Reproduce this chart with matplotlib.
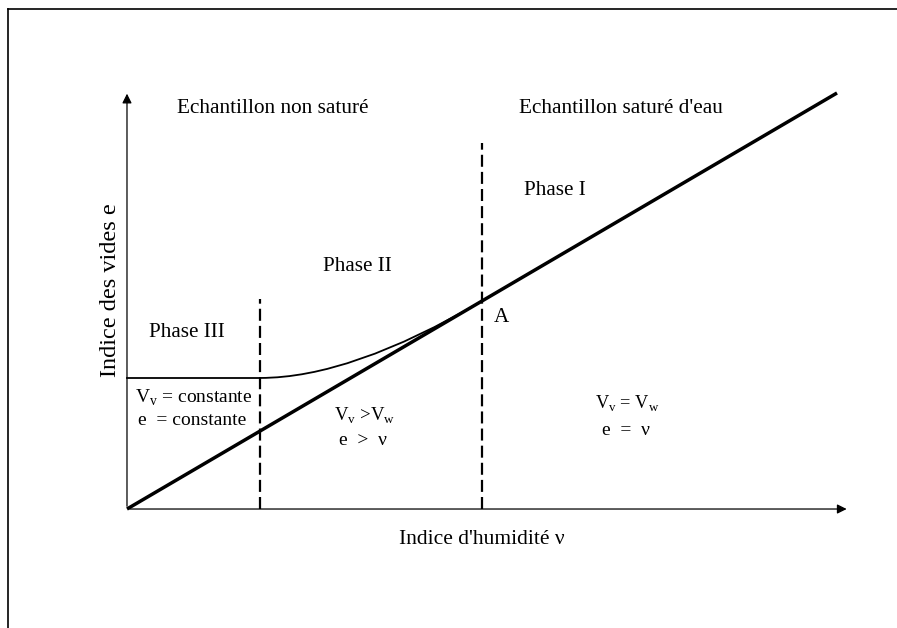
import matplotlib.pyplot as plt
from matplotlib.path import Path
from matplotlib.patches import PathPatch
from matplotlib.lines import Line2D

plt.rcParams['font.family'] = ['Liberation Serif', 'DejaVu Serif']

# saturation line e = v
sat_v = [0.0, 2.0]
sat_e = [0.0, 2.0]
# phase limits (v) and top of the dashed lines (e)
bounds_v = [0.375, 1.0]
bounds_top = [1.01, 1.76]
# plateau (phase III) and curve up to A
e_const = 0.63
curve_v = [0.375, 0.631, 1.0]
curve_e = [0.63, 0.63, 1.0]

# text, v, e, size
labels = [
    ("Echantillon non saturé", 0.41, 1.925, 15.3),
    ("Echantillon saturé d'eau", 1.39, 1.925, 15.3),
    ("Phase I", 1.206, 1.53, 15.2),
    ("Phase II", 0.648, 1.168, 15.2),
    ("Phase III", 0.169, 0.848, 15.2),
    ("A", 1.056, 0.92, 15.2),
    ("V$_\\mathregular{v}$ = constante", 0.189, 0.536, 14),
    ("e  = constante", 0.183, 0.426, 14),
    ("V$_\\mathregular{v}$ >V$_\\mathregular{w}$", 0.67, 0.45, 13.5),
    ("e  >  ν", 0.664, 0.33, 14),
    ("V$_\\mathregular{v}$ = V$_\\mathregular{w}$", 1.41, 0.508, 13.2),
    ("e  =  ν", 1.405, 0.378, 14),
]

fig = plt.figure(figsize=(8.97, 6.28), dpi=100)
ax = fig.add_axes([0, 0, 1, 1])
ax.set_xlim(-0.3577, 2.169)
ax.set_ylim(-0.572, 2.447)
ax.axis('off')

# frame around the figure (top and left only)
fig.add_artist(Line2D([8 / 897, 1], [1 - 9 / 628, 1 - 9 / 628], color='black', lw=1.2))
fig.add_artist(Line2D([8 / 897, 8 / 897], [0, 1 - 9 / 628], color='black', lw=1.2))

# axes arrows
ax.annotate('', xy=(2.035, 0), xytext=(0, 0),
            arrowprops=dict(arrowstyle='-|>', color='black', lw=0.9, mutation_scale=14))
ax.annotate('', xy=(0, 2.01), xytext=(0, 0),
            arrowprops=dict(arrowstyle='-|>', color='black', lw=0.9, mutation_scale=14))

ax.plot(sat_v, sat_e, color='black', lw=2.5, solid_capstyle='butt')

for v, top in zip(bounds_v, bounds_top):
    ax.plot([v, v], [0, top], color='black', lw=1.6, dashes=(5.4, 2.3))

ax.plot([0, bounds_v[0]], [e_const, e_const], color='black', lw=1.3)
path = Path(list(zip(curve_v, curve_e)), [Path.MOVETO, Path.CURVE3, Path.CURVE3])
ax.add_patch(PathPatch(path, facecolor='none', edgecolor='black', lw=1.3))

for txt, x, y, fs in labels:
    ax.text(x, y, txt, ha='center', va='center', fontsize=fs)

ax.text(1.0, -0.145, "Indice d'humidité ν", ha='center', va='center', fontsize=15.5)
ax.text(-0.047, 1.053, "Indice des vides e", ha='center', va='center',
        rotation=90, fontsize=17.5)

fig.savefig('out.png', dpi=100)
